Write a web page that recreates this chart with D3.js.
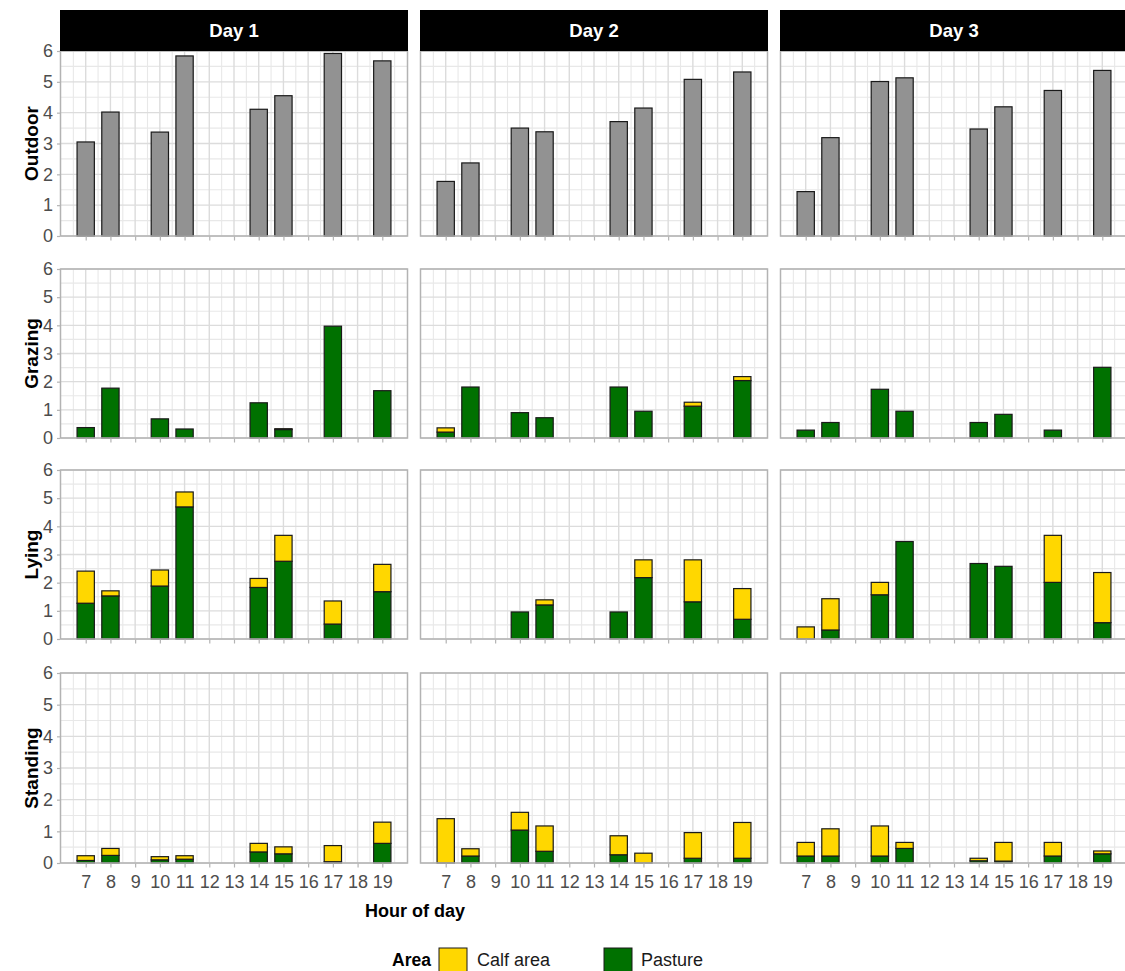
<!DOCTYPE html>
<html>
<head>
<meta charset="utf-8">
<script src="https://cdn.jsdelivr.net/npm/d3@7"></script>
<style>
  html, body { margin: 0; padding: 0; background: #fff; }
  svg { display: block; font-family: Arial, "Liberation Sans", sans-serif; }
</style>
</head>
<body>
<svg id="chart" width="1125" height="971"></svg>
<script>
// Hours of the observation day and the facets
const hours = [7, 8, 9, 10, 11, 12, 13, 14, 15, 16, 17, 18, 19];
const days = ["Day 1", "Day 2", "Day 3"];
const behaviours = ["Outdoor", "Grazing", "Lying", "Standing"];
const yTicks = [0, 1, 2, 3, 4, 5, 6];
const areas = ["Calf area", "Pasture"];

// Observed hours with data
const obsHours = [7, 8, 10, 11, 14, 15, 17, 19];

// Outdoor totals per day
const outdoor = [
  [3.05, 4.02, 3.37, 5.84, 4.11, 4.55, 5.92, 5.68],
  [1.77, 2.37, 3.50, 3.38, 3.71, 4.15, 5.08, 5.32],
  [1.44, 3.19, 5.01, 5.13, 3.47, 4.19, 4.72, 5.37]
];

// Grazing: pasture and calf area per day
const grazingPasture = [
  [0.37, 1.77, 0.68, 0.32, 1.25, 0.30, 3.97, 1.68],
  [0.21, 1.81, 0.90, 0.72, 1.81, 0.95, 1.13, 2.04],
  [0.28, 0.55, 1.73, 0.95, 0.55, 0.84, 0.28, 2.51]
];
const grazingCalf = [
  [0.00, 0.00, 0.00, 0.00, 0.00, 0.03, 0.00, 0.00],
  [0.15, 0.00, 0.00, 0.00, 0.00, 0.00, 0.14, 0.14],
  [0.00, 0.00, 0.00, 0.00, 0.00, 0.00, 0.00, 0.00]
];

// Lying
const lyingPasture = [
  [1.27, 1.53, 1.88, 4.69, 1.83, 2.76, 0.53, 1.68],
  [0.00, 0.00, 0.96, 1.21, 0.96, 2.18, 1.32, 0.70],
  [0.00, 0.32, 1.57, 3.46, 2.68, 2.58, 2.01, 0.58]
];
const lyingCalf = [
  [1.14, 0.18, 0.57, 0.53, 0.32, 0.92, 0.82, 0.97],
  [0.00, 0.00, 0.00, 0.18, 0.00, 0.63, 1.49, 1.09],
  [0.43, 1.11, 0.44, 0.00, 0.00, 0.00, 1.67, 1.78]
];

// Standing
const standingPasture = [
  [0.08, 0.24, 0.10, 0.12, 0.35, 0.29, 0.04, 0.62],
  [0.00, 0.22, 1.04, 0.37, 0.26, 0.00, 0.15, 0.15],
  [0.22, 0.22, 0.22, 0.46, 0.07, 0.06, 0.22, 0.29]
];
const standingCalf = [
  [0.15, 0.22, 0.10, 0.11, 0.27, 0.22, 0.51, 0.67],
  [1.40, 0.23, 0.56, 0.80, 0.60, 0.31, 0.81, 1.13],
  [0.43, 0.86, 0.95, 0.19, 0.08, 0.59, 0.43, 0.09]
];

const colours = { Outdoor: "#929292", "Calf area": "#FFD700", Pasture: "#007100" };

// Layout
const panelLeft = [60.5, 420.5, 780.5];
const panelW = 347;
const rows = [
  { name: "Outdoor",  top: 51,  bottom: 236 },
  { name: "Grazing",  top: 269, bottom: 438 },
  { name: "Lying",    top: 470, bottom: 639 },
  { name: "Standing", top: 673, bottom: 863 }
];
const stripTop = 10;
const fontStack = "Arial, 'Liberation Sans', sans-serif";

const svg = d3.select("#chart");

function stackedData(pasture, calf) {
  return pasture.map((p, d) => obsHours.map((h, i) => ({
    hour: h, Pasture: p[i], "Calf area": calf[d][i]
  })));
}
const rowData = {
  Grazing: stackedData(grazingPasture, grazingCalf),
  Lying: stackedData(lyingPasture, lyingCalf),
  Standing: stackedData(standingPasture, standingCalf)
};
const stack = d3.stack().keys(["Pasture", "Calf area"]);

rows.forEach((row, r) => {
  const y = d3.scaleLinear().domain([0, 6]).range([row.bottom, row.top]);

  // Row title
  svg.append("text")
    .attr("transform", `translate(31,${(row.top + row.bottom) / 2}) rotate(-90)`)
    .attr("text-anchor", "middle")
    .attr("dominant-baseline", "central")
    .attr("font-size", 19).attr("font-weight", "bold").attr("fill", "#000")
    .text(row.name);

  days.forEach((day, d) => {
    const x = d3.scaleLinear().domain([5.98, 20.02]).range([panelLeft[d], panelLeft[d] + panelW]);
    const g = svg.append("g");

    // Grid: minor then major
    const minorX = d3.range(6.5, 20, 1);
    const minorY = d3.range(0.5, 6, 1);
    g.selectAll(".mx").data(minorX).join("line")
      .attr("x1", v => x(v)).attr("x2", v => x(v))
      .attr("y1", row.top).attr("y2", row.bottom)
      .attr("stroke", "#e8e8e8").attr("stroke-width", 1.1);
    g.selectAll(".my").data(minorY).join("line")
      .attr("y1", v => y(v)).attr("y2", v => y(v))
      .attr("x1", panelLeft[d]).attr("x2", panelLeft[d] + panelW)
      .attr("stroke", "#e8e8e8").attr("stroke-width", 1.1);
    g.selectAll(".Mx").data(hours).join("line")
      .attr("x1", v => x(v)).attr("x2", v => x(v))
      .attr("y1", row.top).attr("y2", row.bottom)
      .attr("stroke", "#dcdcdc").attr("stroke-width", 1.4);
    g.selectAll(".My").data(yTicks).join("line")
      .attr("y1", v => y(v)).attr("y2", v => y(v))
      .attr("x1", panelLeft[d]).attr("x2", panelLeft[d] + panelW)
      .attr("stroke", "#dcdcdc").attr("stroke-width", 1.4);

    const bw = x(0.7) - x(0);

    if (row.name === "Outdoor") {
      g.selectAll(".bar").data(obsHours.map((h, i) => ({ hour: h, v: outdoor[d][i] })))
        .join("rect")
        .attr("x", e => x(e.hour) - bw / 2).attr("width", bw)
        .attr("y", e => y(e.v)).attr("height", e => y(0) - y(e.v))
        .attr("fill", colours.Outdoor).attr("stroke", "#1a1a1a").attr("stroke-width", 1.2);
    } else {
      const series = stack(rowData[row.name][d]);
      series.forEach(s => {
        g.selectAll(null).data(s.filter(e => e[1] - e[0] > 0)).join("rect")
          .attr("x", e => x(e.data.hour) - bw / 2).attr("width", bw)
          .attr("y", e => y(e[1])).attr("height", e => y(e[0]) - y(e[1]))
          .attr("fill", colours[s.key]).attr("stroke", "#1a1a1a").attr("stroke-width", 1.2);
      });
    }

    // Panel border
    g.append("rect")
      .attr("x", panelLeft[d]).attr("y", row.top)
      .attr("width", panelW).attr("height", row.bottom - row.top)
      .attr("fill", "none").attr("stroke", "#b3b3b3").attr("stroke-width", 1.5);

    // Bottom axis ticks on every panel
    const xAxis = d3.axisBottom(x).tickValues(hours).tickSize(4).tickSizeOuter(0)
      .tickFormat(r === rows.length - 1 ? d3.format("d") : () => "");
    const ax = svg.append("g").attr("transform", `translate(0,${row.bottom + 0.5})`).call(xAxis);
    ax.select(".domain").remove();
    ax.selectAll(".tick line").attr("stroke", "#b3b3b3").attr("stroke-width", 1.2);
    ax.selectAll(".tick text").attr("font-size", 18).attr("fill", "#4d4d4d")
      .attr("y", 12).attr("dy", "0.71em").attr("font-family", fontStack);

    // Left axis on first column
    if (d === 0) {
      const yAxis = d3.axisLeft(y).tickValues(yTicks).tickSize(3).tickSizeOuter(0).tickFormat(d3.format("d"));
      const ay = svg.append("g").attr("transform", `translate(${panelLeft[0] - 0.5},0)`).call(yAxis);
      ay.select(".domain").remove();
      ay.selectAll(".tick line").attr("stroke", "#b3b3b3").attr("stroke-width", 1.2);
      ay.selectAll(".tick text").attr("font-size", 18).attr("fill", "#4d4d4d").attr("x", -7)
        .attr("font-family", fontStack);
    }

    // Strips above the top row
    if (r === 0) {
      svg.append("rect")
        .attr("x", panelLeft[d] - 0.5).attr("y", stripTop)
        .attr("width", panelW + 1).attr("height", row.top - stripTop)
        .attr("fill", "#000");
      svg.append("text")
        .attr("x", panelLeft[d] + panelW / 2).attr("y", (stripTop + row.top) / 2)
        .attr("text-anchor", "middle").attr("dominant-baseline", "central")
        .attr("font-size", 18.5).attr("font-weight", "bold").attr("fill", "#fff")
        .text(day);
    }
  });
});

// X axis title
svg.append("text")
  .attr("x", 415).attr("y", 917)
  .attr("text-anchor", "middle")
  .attr("font-size", 18).attr("font-weight", "bold").attr("fill", "#000")
  .text("Hour of day");

// Legend
const legend = svg.append("g").attr("transform", "translate(0,960)");
legend.append("text").attr("x", 392).attr("y", 0).attr("dominant-baseline", "central")
  .attr("font-size", 17.5).attr("font-weight", "bold").attr("fill", "#000").text("Area");
const keyX = [439, 604];
const labX = [477, 641];
areas.forEach((a, i) => {
  legend.append("rect").attr("x", keyX[i]).attr("y", -12).attr("width", 28).attr("height", 24)
    .attr("fill", colours[a]).attr("stroke", "#1a1a1a").attr("stroke-width", 1);
  legend.append("text").attr("x", labX[i]).attr("y", 0).attr("dominant-baseline", "central")
    .attr("font-size", 18).attr("fill", "#1a1a1a").text(a);
});
</script>
</body>
</html>
